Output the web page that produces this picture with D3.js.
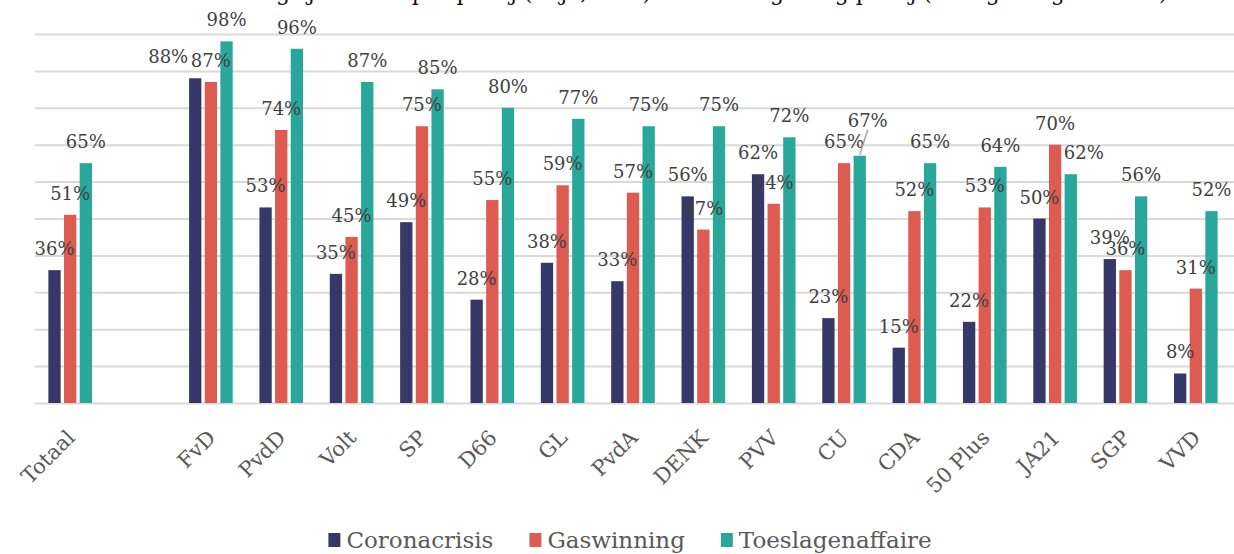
<!DOCTYPE html>
<html>
<head>
<meta charset="utf-8">
<script src="https://cdn.jsdelivr.net/npm/d3@7"></script>
<style>
  body { margin: 0; background: #fff; }
  text { font-family: "DejaVu Serif", serif; }
</style>
</head>
<body>
<div id="chart"></div>
<script>
// categories (the empty one is the gap after Totaal)
const categories = ["Totaal", "", "FvD", "PvdD", "Volt", "SP", "D66", "GL", "PvdA", "DENK", "PVV", "CU", "CDA", "50 Plus", "JA21", "SGP", "VVD"];
const series = ["Coronacrisis", "Gaswinning", "Toeslagenaffaire"];
const coronacrisis     = [36, null, 88, 53, 35, 49, 28, 38, 33, 56, 62, 23, 15, 22, 50, 39, 8];
const gaswinning       = [51, null, 87, 74, 45, 75, 55, 59, 57, 47, 54, 65, 52, 53, 70, 36, 31];
const toeslagenaffaire = [65, null, 98, 96, 87, 85, 80, 77, 75, 75, 72, 67, 65, 64, 62, 56, 52];
const yTicks = [0, 10, 20, 30, 40, 50, 60, 70, 80, 90, 100];

const colors = ["#363968", "#dd5b50", "#29a79b"];
const values = [coronacrisis, gaswinning, toeslagenaffaire];

const width = 1234, height = 554;

const svg = d3.select("#chart").append("svg")
  .attr("width", width)
  .attr("height", height);

// title, cut off at the top like in the picture (only the bottoms show)
svg.append("text")
  .attr("x", 690)
  .attr("y", 0)
  .attr("text-anchor", "middle")
  .attr("font-size", 22)
  .attr("fill", "#111")
  .text("Belangrijk thema per partij (% ja, zeer) naar stemgedrag partij (stemgedrag TK2021)");

const x0 = d3.scaleBand().domain(categories).range([35, 1231]).paddingInner(0.38).paddingOuter(0.19);
const x1 = d3.scaleBand().domain(series).range([0, x0.bandwidth()]).paddingInner(0.214);
const y = d3.scaleLinear().domain([0, 100]).range([403, 34]);

// gridlines
svg.append("g")
  .attr("transform", "translate(35,0)")
  .call(d3.axisLeft(y).tickValues(yTicks).tickSize(-(width - 35)).tickFormat(""))
  .call(g => g.select(".domain").remove())
  .call(g => g.selectAll("line").attr("stroke", "#d9d9d9").attr("stroke-width", 2));

// x axis labels
svg.append("g")
  .attr("transform", "translate(0,403)")
  .call(d3.axisBottom(x0).tickSize(0))
  .call(g => g.select(".domain").remove())
  .call(g => g.selectAll("text")
    .attr("y", 0).attr("dy", 0)
    .attr("transform", "translate(6,36) rotate(-45)")
    .attr("text-anchor", "end")
    .attr("font-size", 21)
    .attr("font-family", "DejaVu Serif, serif")
    .attr("fill", "#595959"));

// flat rows for bars
const rows = [];
categories.forEach((c, i) => {
  series.forEach((s, j) => {
    if (values[j][i] != null) rows.push({ cat: c, series: s, value: values[j][i], color: colors[j] });
  });
});

svg.append("g").selectAll("rect")
  .data(rows)
  .enter().append("rect")
  .attr("x", d => x0(d.cat) + x1(d.series))
  .attr("y", d => y(d.value))
  .attr("width", x1.bandwidth())
  .attr("height", d => y(0) - y(d.value))
  .attr("fill", d => d.color);

// labels that were moved by hand in the original
const nudges = {
  "FvD|Coronacrisis": [-27, 0],
  "CU|Toeslagenaffaire": [8, -14],
  "JA21|Toeslagenaffaire": [13, 0]
};

const labels = svg.append("g");
rows.forEach(d => {
  const cx = x0(d.cat) + x1(d.series) + x1.bandwidth() / 2;
  const n = nudges[d.cat + "|" + d.series] || [0, 0];
  const ly = y(d.value) - 15 + n[1];
  if (n[1] !== 0) {
    labels.append("line")
      .attr("x1", cx + n[0]).attr("y1", ly + 3)
      .attr("x2", cx).attr("y2", y(d.value) - 1)
      .attr("stroke", "#a6a6a6").attr("stroke-width", 1.5);
  }
  labels.append("text")
    .attr("x", cx + n[0])
    .attr("y", ly)
    .attr("text-anchor", "middle")
    .attr("font-size", 18)
    .attr("fill", "#404040")
    .text(d.value + "%");
});

// legend
const legend = svg.append("g");
let lx = 0;
series.forEach((s, j) => {
  const item = legend.append("g").attr("transform", "translate(" + lx + ",0)");
  item.append("rect").attr("x", 0).attr("y", -15).attr("width", 12).attr("height", 14).attr("fill", colors[j]);
  const t = item.append("text").attr("x", 18).attr("y", 0)
    .attr("font-size", 23).attr("fill", "#595959").text(s);
  lx += 18 + t.node().getComputedTextLength() + 36;
});
lx -= 36;
legend.attr("transform", "translate(" + (630 - lx / 2) + ",548)");
</script>
</body>
</html>
